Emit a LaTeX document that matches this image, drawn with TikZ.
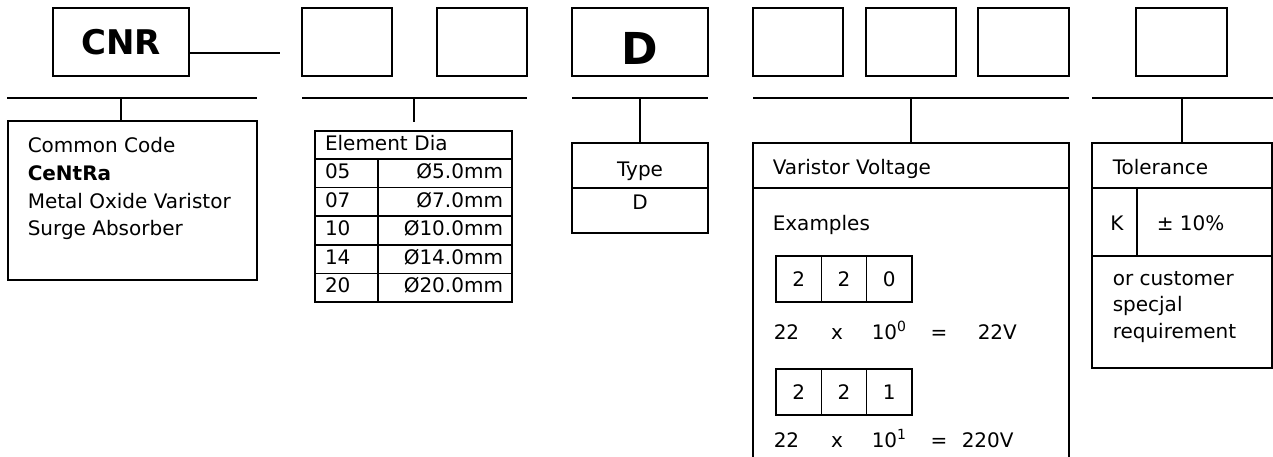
\documentclass[tikz,border=0pt]{standalone}
\usepackage{fontspec}
\setmainfont{DejaVu Sans}
\usetikzlibrary{positioning}

\begin{document}
\begin{tikzpicture}[x=1pt,y=-1pt,line width=1.5pt,
  box/.style={shape=rectangle,draw=black,inner sep=0pt,outer sep=0pt},
  lbl/.style={inner sep=0pt,font=\fontsize{20}{24}\selectfont},
  cell/.style={shape=rectangle,draw=black,outer sep=0pt,inner ysep=0pt,minimum height=28.6pt,font=\fontsize{20}{24}\selectfont,text height=14.5pt,text depth=4pt},
  digit/.style={shape=rectangle,draw=black,inner sep=0pt,outer sep=0pt,minimum width=45.3pt,minimum height=46pt,font=\fontsize{20}{24}\selectfont}]
\useasboundingbox (0,0) rectangle (1273,457);

% code boxes on top
\node[box,minimum width=136pt,minimum height=68pt,font=\fontsize{34}{38}\selectfont\bfseries] (cnr) at (121,42) {CNR};
\node[box,minimum width=90pt,minimum height=68pt] (dia1) at (347,42) {};
\node[box,minimum width=90pt,minimum height=68pt] (dia2) at (482,42) {};
\node[box,minimum width=136pt,minimum height=68pt] (typ) at (640,42) {};
\node[inner sep=0pt,font=\fontsize{44}{48}\selectfont\bfseries] (typlbl) at (640,48) {D};
\node[box,minimum width=90pt,minimum height=68pt] (volt1) at (798,42) {};
\node[box,minimum width=90pt,minimum height=68pt] (volt2) at (911,42) {};
\node[box,minimum width=91pt,minimum height=68pt] (volt3) at (1023.5,42) {};
\node[box,minimum width=91pt,minimum height=68pt] (tol) at (1181.5,42) {};
\coordinate (dashend) at (280,53);
\draw [-] (dashend -| cnr.east) -- (dashend);

% brackets
\coordinate (br1a) at (7,98);
\coordinate (br1b) at (257,98);
\coordinate (br1t) at (121,98);
\coordinate (br2a) at (302,98);
\coordinate (br2b) at (527,98);
\coordinate (br2t) at (414,98);
\coordinate (br3a) at (572,98);
\coordinate (br3b) at (708,98);
\coordinate (br3t) at (640,98);
\coordinate (br4a) at (753,98);
\coordinate (br4b) at (1069,98);
\coordinate (br4t) at (911,98);
\coordinate (br5a) at (1092,98);
\coordinate (br5b) at (1273,98);
\coordinate (br5t) at (1182,98);
\draw [-] (br1a) -- (br1b);
\draw [-] (br2a) -- (br2b);
\draw [-] (br3a) -- (br3b);
\draw [-] (br4a) -- (br4b);
\draw [-] (br5a) -- (br5b);

% common code
\node[box,minimum width=249pt,minimum height=159pt] (info) at (132.5,200.5) {};
\node[lbl,anchor=base west] (info1) at (27,153) {Common Code};
\node[lbl,anchor=base west] (info2) at (27,180.5) {\bfseries CeNtRa};
\node[lbl,anchor=base west] (info3) at (27,208) {Metal Oxide Varistor};
\node[lbl,anchor=base west] (info4) at (27,235) {Surge Absorber};
\draw [-] (br1t) -- (br1t |- info.north);

% element dia
\node[cell,anchor=north west,minimum height=28pt,inner xsep=10pt,text width=177pt,align=left] (diahd) at (315,131) {Element Dia};
\node[cell,anchor=north west,inner xsep=10pt,text width=43pt,align=left] (d05) at (diahd.south west) {05};
\node[cell,below=0pt of d05,inner xsep=10pt,text width=43pt,align=left] (d07) {07};
\node[cell,below=0pt of d07,inner xsep=10pt,text width=43pt,align=left] (d10) {10};
\node[cell,below=0pt of d10,inner xsep=10pt,text width=43pt,align=left] (d14) {14};
\node[cell,below=0pt of d14,inner xsep=10pt,text width=43pt,align=left] (d20) {20};
\node[cell,right=0pt of d05,inner xsep=9pt,text width=116pt,align=right] (v05) {Ø5.0mm};
\node[cell,right=0pt of d07,inner xsep=9pt,text width=116pt,align=right] (v07) {Ø7.0mm};
\node[cell,right=0pt of d10,inner xsep=9pt,text width=116pt,align=right] (v10) {Ø10.0mm};
\node[cell,right=0pt of d14,inner xsep=9pt,text width=116pt,align=right] (v14) {Ø14.0mm};
\node[cell,right=0pt of d20,inner xsep=9pt,text width=116pt,align=right] (v20) {Ø20.0mm};
\draw [-,shorten >=9pt] (br2t) -- (br2t |- diahd.north);

% type
\node[box,minimum width=136pt,minimum height=45pt,anchor=north] (typehd) at (640,143) {};
\node[box,minimum width=136pt,minimum height=45pt,anchor=north] (typebody) at (typehd.south) {};
\node[lbl,anchor=base] (typename) at (640,177) {Type};
\node[lbl,anchor=base] (typeval) at (640,209) {D};
\draw [-] (br3t) -- (typehd.north);

% varistor voltage
\node[box,minimum width=316pt,minimum height=45pt,anchor=north west] (vvhd) at (753,143) {};
\coordinate (vvend) at (911,457);
\draw [-] (vvhd.south west) -- (vvhd.south west |- vvend);
\draw [-] (vvhd.south east) -- (vvhd.south east |- vvend);
\node[lbl,anchor=base west] (vvname) at (772,175) {Varistor Voltage};
\node[lbl,anchor=base west] (vvex) at (772,230) {Examples};
\node[digit,anchor=north west] (dg1a) at (776,256) {2};
\node[digit,right=0pt of dg1a] (dg1b) {2};
\node[digit,right=0pt of dg1b] (dg1c) {0};
\node[lbl,anchor=base west] (eq1a) at (773,339) {22};
\node[lbl,anchor=base] (eq1b) at (837,339) {x};
\node[lbl,anchor=base west] (eq1c) at (871,339) {10\textsuperscript{0}};
\node[lbl,anchor=base] (eq1d) at (939,339) {=};
\node[lbl,anchor=base west] (eq1e) at (977,339) {22V};
\node[digit,anchor=north west] (dg2a) at (776,369) {2};
\node[digit,right=0pt of dg2a] (dg2b) {2};
\node[digit,right=0pt of dg2b] (dg2c) {1};
\node[lbl,anchor=base west] (eq2a) at (773,447) {22};
\node[lbl,anchor=base] (eq2b) at (837,447) {x};
\node[lbl,anchor=base west] (eq2c) at (871,447) {10\textsuperscript{1}};
\node[lbl,anchor=base] (eq2d) at (939,447) {=};
\node[lbl,anchor=base west] (eq2e) at (961,447) {220V};
\draw [-] (br4t) -- (vvhd.north);

% tolerance
\node[box,minimum width=180pt,minimum height=45pt,anchor=north west] (tolhd) at (1092,143) {};
\node[box,minimum width=45pt,minimum height=68pt,anchor=north west] (tolk) at (tolhd.south west) {};
\node[box,minimum width=135pt,minimum height=68pt,right=0pt of tolk] (tolpm) {};
\node[box,minimum width=180pt,minimum height=112pt,anchor=north west] (tolrest) at (tolk.south west) {};
\node[lbl,anchor=base west] (tolname) at (1112,175) {Tolerance};
\node[lbl,anchor=base] (tolkey) at (1117,230) {K};
\node[lbl,anchor=base west] (tolval) at (1156,230) {± 10\%};
\node[lbl,anchor=base west] (tolor1) at (1112,285) {or customer};
\node[lbl,anchor=base west] (tolor2) at (1112,311.5) {specjal};
\node[lbl,anchor=base west] (tolor3) at (1112,338) {requirement};
\draw [-] (br5t) -- (br5t |- tolhd.north);
\end{tikzpicture}
\end{document}
